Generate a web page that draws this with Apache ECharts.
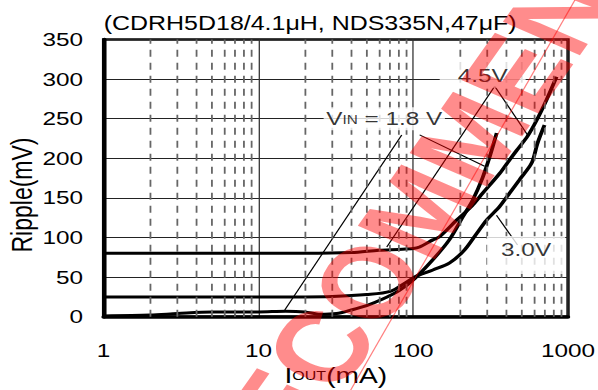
<!DOCTYPE html>
<html><head><meta charset="utf-8">
<script src="https://cdn.jsdelivr.net/npm/echarts/dist/echarts.min.js"></script>
<style>
html,body{margin:0;padding:0;background:#fff;overflow:hidden}
#wrap{width:598px;height:390px;overflow:hidden;position:relative;background:#fff}
#c{width:467px;height:390px;transform:scaleX(1.2805);transform-origin:0 0}
</style></head><body><div id="wrap"><div id="c"></div></div>
<script>
// ---- data (I_OUT in mA, ripple in mV) ----
const titleText = '(CDRH5D18/4.1\u03bcH, NDS335N,47\u03bcF)';
const xTickValues = [1, 10, 100, 1000];
const minorTicks = [2,3,4,5,6,7,8,9,20,30,40,50,60,70,80,90,200,300,400,500,600,700,800,900];
const yMin = 0, yMax = 350, yStep = 50;

const vin45 = [[1,80],[2,80],[5,80],[10,80],[20,80],[40,81],[60,84],[80,85],[100,86],[110,88],[134,97],[148,101],[191,122],[240,140],[281,156],[362,181],[419,198],[466,210],[548,228],[627,248],[727,274],[843,303]];
const vin30 = [[1,25],[2,25],[5,25],[10,25],[20,25],[30,25.5],[50,28],[71,32],[91,44],[102,50],[134,59],[172,68],[214,84],[257,105],[298,122],[361,139],[419,156],[486,173],[582,194],[635,219],[705,242]];
const vin18 = [[1,1],[2,2],[3,4],[5,6],[10,6],[15,7],[20,6],[25,3],[32,4],[39,8],[50,14],[63,22],[81,33],[102,48],[134,72],[171,97],[209,126],[242,147],[280,175],[312,202],[346,232]];

// leader lines: [from, to] in (mA, mV)
const lead45a = [[336,291],[67.5,88]];
const lead45b = [[336,291],[548,229.5]];
const lead18a = [[84.3,229.5],[14.8,8.5]];
const lead18b = [[110,229.5],[289,190]];
const lead30  = [[472,90.5],[345,128]];

const labelTexts = ['{a|4.5V}', '{a|V}{b|IN}{a| = 1.8 V}', '{a|3.0V}'];
const labelAt = [[281,305],[65,250],[536,78]];
const watermarkText = 'NOT RECOMMENDED FOR NEW DESIGNS';

const FONT = 'Liberation Sans, Arial, sans-serif';
const chart = echarts.init(document.getElementById('c'), null, {renderer:'svg'});

const curve = (d) => ({type:'line', data:d, showSymbol:false, smooth:0.3, z:4,
  lineStyle:{color:'#000', width:3}, silent:true});
const leader = (d) => ({type:'line', data:d, showSymbol:false, z:3,
  lineStyle:{color:'#000', width:1}, silent:true});
const richLab = {a:{fontSize:19, fontFamily:FONT, color:'#000'}, b:{fontSize:12, fontFamily:FONT, color:'#000', padding:[0,0,-2,0]}};
const padList = [[3,14,3,14],[2,2,2,2],[4,11,15,11]];
const labelSeries = labelTexts.map((t,i)=>({type:'scatter', data:[labelAt[i]], symbolSize:0, z:6, silent:true,
  label:{show:true, position:'inside', formatter:t, rich:richLab, backgroundColor:'#fff', padding:padList[i]}}));

chart.setOption({
  animation:false,
  backgroundColor:'#fff',
  title:{text:titleText, left:76, top:8, textStyle:{fontFamily:FONT, fontSize:19.5, fontWeight:'normal', color:'#000'}},
  grid:{left:80.9, right:23.4, top:39.5, bottom:73.3, show:true, borderColor:'#000', borderWidth:2.6, containLabel:false, outerBoundsMode:'none'},
  xAxis:{type:'log', logBase:10, min:1, max:1000,
    axisLine:{show:true, onZero:false, lineStyle:{color:'#000', width:3.5}},
    axisTick:{show:false},
    axisLabel:{color:'#000', fontSize:19, fontFamily:FONT, margin:24, formatter:(v)=>String(Math.round(v))},
    splitLine:{show:true, lineStyle:{color:'#333', width:1}},
    name:'{a|I}{b|OUT}{a|(mA)}', nameLocation:'middle', nameGap:47,
    nameTextStyle:{rich:{a:{fontSize:22, fontFamily:FONT, color:'#000'}, b:{fontSize:12.5, fontFamily:FONT, color:'#000', padding:[0,0,-1,0]}}}
  },
  yAxis:{type:'value', min:yMin, max:yMax, interval:yStep,
    axisLine:{show:true, lineStyle:{color:'#000', width:3.4}},
    axisTick:{show:false},
    axisLabel:{color:'#000', fontSize:19, fontFamily:FONT, margin:16},
    splitLine:{show:true, lineStyle:{color:'#222', width:1}}
  },
  graphic:[
    {type:'text', x:17.5, y:195, rotation:Math.PI/2, z:10,
      style:{text:'Ripple(mV)', fontSize:23, fontFamily:FONT, fill:'#000', align:'center', verticalAlign:'middle'}},
    {type:'text', x:50, y:710, rotation:61*Math.PI/180, z:100, silent:true,
      style:{text:watermarkText, fontSize:100, fontWeight:'bold', fontFamily:FONT, fill:'rgba(255,0,0,0.45)', align:'left', verticalAlign:'middle'}},
    {type:'line', z:100, silent:true, shape:{x1:273, y1:392, x2:449, y2:0}, style:{stroke:'rgba(255,0,0,0.5)', lineWidth:1}}
  ],
  series:[
    {type:'line', data:[], z:1, silent:true,
      markLine:{silent:true, symbol:['none','none'], label:{show:false}, animation:false,
        lineStyle:{type:[7,6], color:'#666', width:1.4}, data:minorTicks.map(v=>({xAxis:v}))}},
    leader(lead45a), leader(lead45b), leader(lead18a), leader(lead18b), leader(lead30),
    curve(vin45), curve(vin30), curve(vin18),
    ...labelSeries
  ]
});
</script></body></html>
